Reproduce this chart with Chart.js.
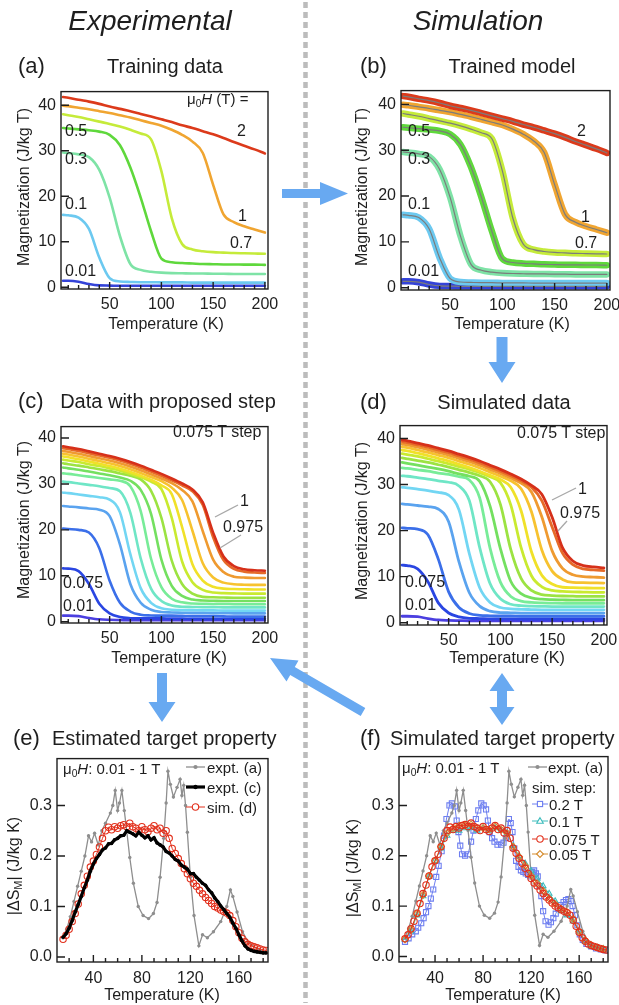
<!DOCTYPE html>
<html>
<head>
<meta charset="utf-8">
<script src="https://cdn.jsdelivr.net/npm/chart.js@4.4.1/dist/chart.umd.min.js"></script>
<style>
  body { margin: 0; width: 619px; height: 1005px; position: relative; background: #fff; overflow: hidden;
         font-family: "Liberation Sans", Arial, sans-serif; color: #1e1e1e; }
  canvas { position: absolute; }
  .t { position: absolute; white-space: nowrap; line-height: 1; }
  .c { transform: translateX(-50%); }
  .r { transform: translate(-50%, -50%) rotate(-90deg); }
  .it { font-style: italic; }
  sub { font-size: 0.68em; vertical-align: -0.28em; line-height: 0; }
  svg.overlay { position: absolute; left: 0; top: 0; pointer-events: none; }
  .s16 { font-size: 16px; }
  .s15 { font-size: 15px; }
</style>
</head>
<body>

<canvas id="ca"></canvas>
<canvas id="cb"></canvas>
<canvas id="cc"></canvas>
<canvas id="cd"></canvas>
<canvas id="ce"></canvas>
<canvas id="cf"></canvas>

<svg class="overlay" width="619" height="1005">
  <line x1="305.5" y1="2" x2="305.5" y2="1003" stroke="#bcbcbc" stroke-width="4.5" stroke-dasharray="6 4"/>
  <g fill="#68a9f1">
    <polygon points="282,189 320,189 320,182 348,193.5 320,205 320,198 282,198"/>
    <polygon points="496.5,337 507.5,337 507.5,362 515.5,362 502,383 488.5,362 496.5,362"/>
    <polygon points="157,673 167,673 167,702 175.5,702 162,722 148.5,702 157,702"/>
    <polygon points="270,658 298.5,660.6 294.8,667.1 365.3,708.1 360.7,715.9 290.2,674.9 286.5,681.4"/>
    <polygon points="502,673 514.5,691 507,691 507,707 514.5,707 502,725 489.5,707 497,707 497,691 489.5,691"/>
  </g>
  <g stroke="#a8a8a8" stroke-width="1.3">
    <line x1="238" y1="505" x2="215" y2="517"/>
    <line x1="241" y1="535" x2="220" y2="548"/>
    <line x1="576" y1="488" x2="552" y2="500"/>
    <line x1="567" y1="521" x2="558" y2="531"/>
  </g>
</svg>

<!-- column headings -->
<div class="t c it" style="left:150px;top:7px;font-size:28px">Experimental</div>
<div class="t c it" style="left:478px;top:7px;font-size:28px">Simulation</div>

<!-- panel titles -->
<div class="t" style="left:18px;top:55px;font-size:22px">(a)</div>
<div class="t c" style="left:165px;top:56px;font-size:20px">Training data</div>
<div class="t" style="left:360px;top:55px;font-size:22px">(b)</div>
<div class="t c" style="left:512px;top:56px;font-size:20px">Trained model</div>
<div class="t" style="left:18px;top:390px;font-size:22px">(c)</div>
<div class="t c" style="left:168px;top:391px;font-size:20px">Data with proposed step</div>
<div class="t" style="left:360px;top:391px;font-size:22px">(d)</div>
<div class="t c" style="left:504px;top:392px;font-size:20px">Simulated data</div>
<div class="t" style="left:13px;top:727px;font-size:22px">(e)</div>
<div class="t" style="left:52px;top:728px;font-size:20px">Estimated target property</div>
<div class="t" style="left:360px;top:727px;font-size:22px">(f)</div>
<div class="t" style="left:390px;top:728px;font-size:20px">Simulated target property</div>

<!-- axis titles -->
<div class="t c s16" style="left:166px;top:316px">Temperature (K)</div>
<div class="t c s16" style="left:512px;top:316px">Temperature (K)</div>
<div class="t c s16" style="left:169px;top:650px">Temperature (K)</div>
<div class="t c s16" style="left:507px;top:650px">Temperature (K)</div>
<div class="t c s16" style="left:162px;top:987px">Temperature (K)</div>
<div class="t c s16" style="left:503px;top:987px">Temperature (K)</div>
<div class="t r s16" style="left:24px;top:187px">Magnetization (J/kg T)</div>
<div class="t r s16" style="left:362px;top:187px">Magnetization (J/kg T)</div>
<div class="t r s16" style="left:24px;top:520px">Magnetization (J/kg T)</div>
<div class="t r s16" style="left:362px;top:521px">Magnetization (J/kg T)</div>
<div class="t r s16" style="left:14px;top:866px">|ΔS<sub>M</sub>| (J/kg K)</div>
<div class="t r s16" style="left:353px;top:868px">|ΔS<sub>M</sub>| (J/kg K)</div>

<!-- curve labels (a) -->
<div class="t s15" style="left:187px;top:91px">μ<sub>0</sub><i>H</i> (T) =</div>
<div class="t s16" style="left:237px;top:123px">2</div>
<div class="t s16" style="left:65px;top:123px">0.5</div>
<div class="t s16" style="left:65px;top:151px">0.3</div>
<div class="t s16" style="left:65px;top:196px">0.1</div>
<div class="t s16" style="left:65px;top:263px">0.01</div>
<div class="t s16" style="left:238px;top:208px">1</div>
<div class="t s16" style="left:230px;top:235px">0.7</div>
<!-- curve labels (b) -->
<div class="t s16" style="left:577px;top:123px">2</div>
<div class="t s16" style="left:408px;top:123px">0.5</div>
<div class="t s16" style="left:408px;top:151px">0.3</div>
<div class="t s16" style="left:408px;top:196px">0.1</div>
<div class="t s16" style="left:408px;top:263px">0.01</div>
<div class="t s16" style="left:581px;top:209px">1</div>
<div class="t s16" style="left:575px;top:235px">0.7</div>
<!-- curve labels (c) -->
<div class="t s16" style="left:173px;top:424px">0.075 T step</div>
<div class="t s16" style="left:240px;top:493px">1</div>
<div class="t s16" style="left:223px;top:519px">0.975</div>
<div class="t s16" style="left:63px;top:575px">0.075</div>
<div class="t s16" style="left:63px;top:598px">0.01</div>
<!-- curve labels (d) -->
<div class="t s16" style="left:517px;top:425px">0.075 T step</div>
<div class="t s16" style="left:578px;top:481px">1</div>
<div class="t s16" style="left:560px;top:505px">0.975</div>
<div class="t s16" style="left:405px;top:574px">0.075</div>
<div class="t s16" style="left:405px;top:597px">0.01</div>
<!-- (e), (f) notes -->
<div class="t s15" style="left:63px;top:761px">μ<sub>0</sub><i>H</i>: 0.01 - 1 T</div>
<div class="t s15" style="left:402px;top:760px">μ<sub>0</sub><i>H</i>: 0.01 - 1 T</div>
<div class="t s15" style="left:532px;top:780px">sim. step:</div>
<div id="legends"></div>

<script>
// ---- (a)/(b): training data, field in T ----
const trainT = [5, 10, 20, 30, 40, 50, 60, 70, 80, 90, 100, 110, 120, 130, 140, 150, 160, 170, 180, 190, 200];
const trainM001 = [1.4, 1.4, 1.2, 0.7, 0.4, 0.35, 0.3, 0.3, 0.3, 0.3, 0.3, 0.3, 0.3, 0.3, 0.3, 0.3, 0.3, 0.3, 0.3, 0.3, 0.3];
const trainM01 = [15.9, 15.8, 15.3, 12.8, 6.5, 2.0, 1.25, 1.15, 1.1, 1.1, 1.05, 1.05, 1.05, 1.0, 1.0, 1.0, 1.0, 1.0, 1.0, 1.0, 1.0];
const trainM03 = [29.6, 29.5, 29.2, 28.6, 25.8, 19.7, 11.2, 5.1, 3.8, 3.4, 3.2, 3.1, 3.05, 3.0, 3.0, 2.95, 2.95, 2.9, 2.9, 2.9, 2.9];
const trainM05 = [35.0, 34.9, 34.7, 34.5, 34.2, 33.5, 31.2, 26.3, 19.7, 12.3, 6.3, 5.5, 5.3, 5.2, 5.1, 5.05, 5.0, 5.0, 4.95, 4.95, 4.9];
const trainM07 = [38.0, 37.8, 37.4, 36.9, 36.4, 35.9, 35.3, 34.6, 33.8, 32.5, 25.5, 15.2, 9.5, 8.3, 7.9, 7.7, 7.6, 7.5, 7.45, 7.4, 7.35];
const trainM1 = [39.9, 39.8, 39.45, 39.1, 38.7, 38.3, 37.8, 37.3, 36.7, 36.1, 35.5, 34.6, 33.5, 32.0, 29.5, 22.5, 16.0, 14.3, 13.4, 12.7, 12.0];
const trainM2 = [41.8, 41.65, 41.2, 40.8, 40.3, 39.7, 39.2, 38.7, 38.1, 37.5, 36.9, 36.3, 35.6, 35.0, 34.3, 33.6, 32.8, 31.9, 31.1, 30.3, 29.4];
const trainColors = ['#3443d8', '#6cc9f0', '#7ee3a6', '#5fd83c', '#c5eb3a', '#f0a531', '#dc3a1b'];

// ---- (c): data with 0.075 T step ----
const stepT = [5, 10, 20, 30, 40, 50, 60, 70, 80, 90, 100, 110, 120, 130, 140, 150, 160, 170, 180, 190, 200];
const stepFields = [0.01, 0.075, 0.15, 0.225, 0.3, 0.375, 0.45, 0.525, 0.6, 0.675, 0.75, 0.825, 0.9, 0.975, 1];
const c001 = [1.3, 1.3, 1.2, 0.8, 0.5, 0.4, 0.35, 0.3, 0.3, 0.3, 0.3, 0.3, 0.3, 0.3, 0.3, 0.3, 0.3, 0.3, 0.3, 0.3, 0.3];
const c0075 = [11.6, 11.55, 11.0, 8.2, 3.9, 1.8, 1.0, 0.75, 0.7, 0.7, 0.7, 0.65, 0.65, 0.6, 0.6, 0.6, 0.6, 0.6, 0.6, 0.6, 0.6];
const c015 = [20.3, 20.2, 20.0, 19.4, 16.0, 8.9, 4.1, 2.2, 1.5, 1.35, 1.3, 1.3, 1.25, 1.2, 1.2, 1.2, 1.15, 1.1, 1.1, 1.1, 1.1];
const c0225 = [25.2, 25.1, 24.9, 24.65, 24.4, 23.0, 16.8, 8.2, 4.1, 2.6, 2.1, 2.0, 1.95, 1.9, 1.9, 1.85, 1.85, 1.8, 1.8, 1.8, 1.8];
const c03 = [28.1, 28.0, 27.7, 27.4, 27.1, 26.6, 23.8, 14.7, 7.3, 4.1, 2.9, 2.6, 2.5, 2.5, 2.45, 2.45, 2.4, 2.4, 2.4, 2.4, 2.4];
const c0375 = [30.5, 30.4, 30.1, 29.8, 29.5, 29.1, 28.4, 23.7, 13.8, 7.2, 4.5, 3.5, 3.25, 3.2, 3.15, 3.15, 3.1, 3.1, 3.1, 3.1, 3.1];
const c045 = [32.3, 32.2, 31.9, 31.6, 31.3, 31.0, 30.7, 29.5, 24.1, 13.7, 7.5, 5.0, 4.2, 3.95, 3.9, 3.85, 3.85, 3.8, 3.8, 3.8, 3.8];
const c0525 = [33.6, 33.4, 33.1, 32.7, 32.3, 31.9, 31.4, 30.7, 28.7, 23.5, 13.5, 7.8, 5.6, 4.8, 4.6, 4.55, 4.5, 4.5, 4.5, 4.5, 4.5];
const c06 = [34.5, 34.3, 34.0, 33.6, 33.2, 32.8, 32.3, 31.8, 31.0, 28.5, 22.6, 13.3, 8.2, 6.1, 5.4, 5.3, 5.25, 5.2, 5.2, 5.2, 5.2];
const c0675 = [35.3, 35.1, 34.8, 34.3, 33.9, 33.4, 32.9, 32.2, 31.5, 30.5, 28.9, 22.6, 13.1, 8.6, 6.9, 6.35, 6.2, 6.15, 6.1, 6.1, 6.1];
const c075 = [36.0, 35.8, 35.4, 34.9, 34.4, 33.9, 33.3, 32.6, 31.8, 30.9, 29.7, 27.8, 20.6, 12.5, 8.95, 7.6, 7.2, 7.1, 7.05, 7.0, 7.0];
const c0825 = [36.6, 36.4, 36.0, 35.5, 35.0, 34.5, 33.9, 33.2, 32.4, 31.5, 30.6, 29.2, 26.5, 19.8, 12.7, 9.6, 8.5, 8.15, 8.05, 8.0, 8.0];
const c09 = [37.2, 37.0, 36.6, 36.1, 35.6, 35.1, 34.5, 33.8, 33.0, 32.1, 31.2, 30.2, 28.7, 26.2, 19.7, 13.5, 10.8, 9.8, 9.6, 9.5, 9.5];
const c0975 = [37.8, 37.6, 37.2, 36.7, 36.2, 35.7, 35.1, 34.4, 33.6, 32.7, 31.8, 30.8, 29.7, 28.4, 25.4, 18.4, 13.4, 11.5, 10.9, 10.7, 10.6];
const c1 = [38.2, 38.0, 37.6, 37.1, 36.6, 36.1, 35.5, 34.8, 34.0, 33.1, 32.2, 31.2, 30.1, 28.8, 26.0, 19.4, 14.2, 12.1, 11.4, 11.2, 11.1];

// ---- (d): simulated data, same fields ----
const d001 = [1.4, 1.4, 1.3, 0.9, 0.6, 0.5, 0.45, 0.4, 0.4, 0.4, 0.4, 0.4, 0.4, 0.4, 0.4, 0.4, 0.4, 0.4, 0.4, 0.4, 0.4];
const d0075 = [12.5, 12.4, 11.7, 8.9, 4.3, 2.1, 1.25, 0.95, 0.9, 0.85, 0.85, 0.85, 0.8, 0.8, 0.8, 0.8, 0.8, 0.8, 0.8, 0.8, 0.8];
const d015 = [20.6, 20.5, 20.3, 19.1, 13.8, 6.7, 3.3, 2.0, 1.6, 1.5, 1.45, 1.45, 1.4, 1.4, 1.4, 1.4, 1.4, 1.4, 1.4, 1.4, 1.4];
const d0225 = [25.8, 25.7, 25.45, 25.2, 24.7, 21.9, 13.2, 6.5, 3.6, 2.5, 2.2, 2.15, 2.1, 2.1, 2.1, 2.1, 2.1, 2.1, 2.1, 2.1, 2.1];
const d03 = [29.4, 29.3, 29.0, 28.7, 28.3, 27.7, 24.5, 15.0, 7.6, 4.4, 3.3, 3.0, 2.9, 2.85, 2.8, 2.8, 2.8, 2.8, 2.8, 2.8, 2.8];
const d0375 = [31.9, 31.8, 31.5, 31.2, 30.8, 30.5, 29.7, 26.5, 16.3, 8.5, 5.2, 4.0, 3.7, 3.6, 3.55, 3.5, 3.5, 3.5, 3.5, 3.5, 3.5];
const d045 = [33.6, 33.5, 33.2, 32.9, 32.5, 32.2, 31.7, 31.0, 27.1, 16.2, 8.8, 5.7, 4.7, 4.4, 4.3, 4.25, 4.2, 4.2, 4.2, 4.2, 4.2];
const d0525 = [34.8, 34.6, 34.2, 33.8, 33.4, 32.9, 32.3, 31.8, 30.7, 25.3, 16.1, 9.0, 6.3, 5.4, 5.1, 5.0, 4.95, 4.9, 4.9, 4.9, 4.9];
const d06 = [35.8, 35.6, 35.2, 34.8, 34.3, 33.8, 33.2, 32.6, 31.9, 30.6, 25.7, 15.9, 9.6, 7.0, 6.1, 5.9, 5.8, 5.75, 5.7, 5.7, 5.7];
const d0675 = [36.7, 36.5, 36.1, 35.6, 35.1, 34.5, 33.9, 33.3, 32.6, 31.7, 30.4, 25.6, 16.3, 10.2, 7.8, 7.0, 6.8, 6.7, 6.65, 6.6, 6.6];
const d075 = [37.5, 37.3, 36.8, 36.3, 35.7, 35.1, 34.4, 33.7, 32.9, 32.0, 31.1, 29.4, 24.3, 15.4, 10.3, 8.4, 7.7, 7.6, 7.55, 7.5, 7.5];
const d0825 = [38.2, 38.0, 37.5, 37.0, 36.4, 35.8, 35.1, 34.4, 33.6, 32.7, 31.8, 30.8, 29.1, 24.1, 15.8, 11.2, 9.4, 8.75, 8.7, 8.65, 8.6];
const d09 = [38.8, 38.6, 38.1, 37.6, 37.0, 36.4, 35.7, 35.0, 34.2, 33.3, 32.4, 31.4, 30.3, 28.4, 23.0, 15.6, 11.8, 10.4, 10.0, 9.9, 9.8];
const d0975 = [39.3, 39.1, 38.6, 38.1, 37.5, 36.9, 36.2, 35.5, 34.7, 33.8, 32.9, 31.9, 30.8, 29.4, 26.5, 20.8, 15.1, 12.6, 11.7, 11.45, 11.3];
const d1 = [39.7, 39.5, 39.0, 38.5, 37.9, 37.3, 36.6, 35.9, 35.1, 34.2, 33.3, 32.3, 31.2, 29.8, 27.9, 22.9, 16.3, 13.4, 12.4, 12.1, 11.9];
const stepColors = ['#4b3fe0', '#2a46e2', '#3b6fe9', '#5aa3ef', '#72d6f3', '#6fe6c6', '#78ec98', '#74e060',
                    '#9ce342', '#c9ea30', '#f0e129', '#f7c22f', '#ef9a30', '#e66a28', '#d6301a'];

// ---- (e)/(f): entropy change |dS_M| (J/kg K) ----
const exptA = [[15, 0.038], [18, 0.055], [21, 0.08], [24, 0.11], [27, 0.14], [30, 0.17], [33, 0.2], [36, 0.24],
  [38.5, 0.228], [41, 0.245], [44, 0.222], [47, 0.25], [50, 0.265], [54, 0.285], [56, 0.3], [58, 0.33],
  [60, 0.29], [61.5, 0.305], [63.5, 0.33], [65.5, 0.29], [67.5, 0.25], [70, 0.197], [73, 0.146], [77, 0.1],
  [81, 0.082], [85.5, 0.076], [89.5, 0.086], [92.5, 0.108], [95, 0.158], [98, 0.235], [100, 0.305],
  [101.5, 0.368], [103.5, 0.342], [106, 0.317], [109, 0.336], [111.5, 0.352], [113, 0.32], [114.5, 0.34],
  [116, 0.3], [117.5, 0.247], [120, 0.158], [123, 0.082], [127, 0.022], [130, 0.044], [134, 0.038],
  [139, 0.05], [145, 0.07], [150, 0.1], [153, 0.133], [155, 0.12], [158.5, 0.089], [163, 0.05],
  [168, 0.028], [175, 0.016], [182, 0.01]];
const fineT = [15, 17.5, 20, 22.5, 25, 27.5, 30, 32.5, 35, 37.5, 40, 42.5, 45, 47.5, 50, 52.5, 55, 57.5, 60, 62.5,
  65, 67.5, 70, 72.5, 75, 77.5, 80, 82.5, 85, 87.5, 90, 92.5, 95, 97.5, 100, 102.5, 105, 107.5, 110, 112.5,
  115, 117.5, 120, 122.5, 125, 127.5, 130, 132.5, 135, 137.5, 140, 142.5, 145, 147.5, 150, 152.5, 155, 157.5,
  160, 162.5, 165, 167.5, 170, 172.5, 175, 177.5, 180, 182.5];
const exptC = [0.039, 0.046, 0.057, 0.072, 0.089, 0.104, 0.12, 0.137, 0.152, 0.17,
  0.184, 0.195, 0.203, 0.212, 0.216, 0.224, 0.225, 0.232, 0.235, 0.24,
  0.241, 0.25, 0.247, 0.244, 0.24, 0.247, 0.241, 0.236, 0.24, 0.232,
  0.236, 0.226, 0.222, 0.218, 0.209, 0.206, 0.2, 0.193, 0.19, 0.182,
  0.178, 0.174, 0.165, 0.165, 0.158, 0.152, 0.146, 0.142, 0.133, 0.127,
  0.117, 0.11, 0.101, 0.094, 0.086, 0.079, 0.067, 0.057, 0.044, 0.032,
  0.022, 0.016, 0.013, 0.011, 0.01, 0.009, 0.008, 0.008];
const sim075 = [0.035, 0.043, 0.055, 0.07, 0.086, 0.105, 0.125, 0.142, 0.16, 0.178,
  0.19, 0.203, 0.218, 0.235, 0.25, 0.257, 0.252, 0.258, 0.255, 0.26,
  0.262, 0.258, 0.265, 0.258, 0.255, 0.25, 0.258, 0.252, 0.248, 0.255,
  0.26, 0.252, 0.255, 0.245, 0.25, 0.235, 0.215, 0.205, 0.195, 0.185,
  0.175, 0.165, 0.155, 0.146, 0.14, 0.132, 0.125, 0.118, 0.112, 0.106,
  0.1, 0.097, 0.093, 0.09, 0.087, 0.082, 0.072, 0.06, 0.048, 0.037,
  0.03, 0.025, 0.022, 0.02, 0.018, 0.016, 0.014, 0.013];
const coarseT = [15, 20, 25, 30, 35, 40, 45, 50, 55, 60, 65, 70, 75, 80, 85, 90, 95, 100, 105, 110,
  115, 120, 125, 130, 135, 140, 145, 150, 155, 160, 165, 170, 175, 180];
const sim01 = [0.033, 0.05, 0.082, 0.12, 0.158, 0.19, 0.215, 0.24, 0.25, 0.25,
  0.255, 0.255, 0.25, 0.255, 0.25, 0.255, 0.25, 0.245, 0.22, 0.2,
  0.185, 0.17, 0.155, 0.14, 0.125, 0.11, 0.09, 0.082, 0.07, 0.05,
  0.03, 0.02, 0.017, 0.015];
const sim005 = [0.034, 0.053, 0.085, 0.122, 0.16, 0.19, 0.218, 0.245, 0.255, 0.26,
  0.26, 0.262, 0.255, 0.255, 0.252, 0.258, 0.252, 0.245, 0.218, 0.198,
  0.18, 0.16, 0.145, 0.13, 0.115, 0.104, 0.095, 0.088, 0.075, 0.05,
  0.032, 0.023, 0.018, 0.015];
const sim02 = [[15, 0.029], [18, 0.036], [21, 0.044], [24, 0.05], [26, 0.057], [28.5, 0.066], [30.5, 0.076],
  [32.5, 0.088], [34.5, 0.1], [36.5, 0.115], [38.5, 0.133], [41, 0.158], [43, 0.18], [45.5, 0.209],
  [47.5, 0.24], [49.5, 0.273], [52, 0.3], [54, 0.304], [56.5, 0.298], [58, 0.27], [59.5, 0.247],
  [61, 0.22], [62.5, 0.203], [65, 0.2], [67.5, 0.203], [70, 0.228], [72, 0.25], [74, 0.273], [76, 0.29],
  [78.5, 0.304], [80.5, 0.3], [82.5, 0.292], [84, 0.27], [85.5, 0.247], [87.5, 0.235], [89.5, 0.228],
  [92, 0.222], [95, 0.222], [97, 0.226], [99, 0.235], [101.5, 0.273], [103, 0.265], [104.5, 0.247],
  [106, 0.215], [107.5, 0.19], [109.5, 0.178], [111.5, 0.171], [113.5, 0.168], [115.5, 0.165],
  [117.5, 0.162], [119.5, 0.159], [121, 0.168], [122.5, 0.171], [124, 0.165], [125.5, 0.159],
  [127, 0.14], [128.5, 0.12], [130, 0.09], [132, 0.07], [134.5, 0.063], [136.5, 0.068], [138.5, 0.076],
  [140.5, 0.085], [142.5, 0.095], [145, 0.102], [147, 0.108], [149, 0.112], [151, 0.114], [153, 0.11],
  [154.5, 0.1], [156.5, 0.082], [158.5, 0.062], [160.5, 0.044], [163, 0.033], [166, 0.025], [170, 0.02],
  [174, 0.016], [178, 0.014], [182, 0.012]];

// tick values
const magXTicks = [50, 100, 150, 200];
const magYTicks = [0, 10, 20, 30, 40];
const dsXTicks = [40, 80, 120, 160];
const dsYTicks = [0, 0.1, 0.2, 0.3];

// marker styles for (e)/(f)
const styles = {
  exptA: { color: '#8e8e8e', lw: 1.3, marker: 'dot', r: 1.7 },
  exptC: { color: '#000000', lw: 3.2, marker: 'dot', r: 1.8 },
  s075: { color: '#e2301c', lw: 1, marker: 'circle', r: 3.2 },
  s02: { color: '#6d7ef0', lw: 1, marker: 'rect', r: 3.6 },
  s01: { color: '#3cbcbc', lw: 1, marker: 'triangle', r: 3.3 },
  s005: { color: '#d48a2c', lw: 1, marker: 'diamond', r: 3.4 },
};

Chart.defaults.font.family = "'Liberation Sans', Arial, sans-serif";
Chart.defaults.font.size = 16;
Chart.defaults.color = '#1e1e1e';

// frame box and inward ticks
const frameTicks = {
  id: 'frameTicks',
  afterDraw(chart, args, o) {
    const { ctx, chartArea: a } = chart;
    const x = chart.scales.x, y = chart.scales.y;
    ctx.save();
    ctx.strokeStyle = '#1e1e1e';
    ctx.lineWidth = 1.4;
    ctx.beginPath();
    x.ticks.forEach(t => {
      const p = x.getPixelForValue(t.value);
      ctx.moveTo(p, a.bottom); ctx.lineTo(p, a.bottom - 7);
    });
    for (let v = o.xMinorFrom; v < x.max; v += 10) {
      const p = x.getPixelForValue(v);
      if (p <= a.left + 1) continue;
      ctx.moveTo(p, a.bottom); ctx.lineTo(p, a.bottom - 4);
    }
    y.ticks.forEach(t => {
      const p = y.getPixelForValue(t.value);
      ctx.moveTo(a.left, p); ctx.lineTo(a.left + 8, p);
    });
    ctx.stroke();
    ctx.strokeRect(a.left, a.top, a.right - a.left, a.bottom - a.top);
    ctx.restore();
  }
};

function makeChart(id, box, datasets, xr, yr) {
  const cv = document.getElementById(id);
  cv.width = box.r - box.l + 60 + 24;
  cv.height = box.b - box.t + 6 + 30;
  cv.style.left = (box.l - 60) + 'px';
  cv.style.top = (box.t - 6) + 'px';
  return new Chart(cv, {
    type: 'line',
    data: { datasets },
    options: {
      responsive: false, animation: false, devicePixelRatio: 1,
      layout: { padding: { top: 6, right: 24, left: 0, bottom: 0 } },
      plugins: { legend: { display: false }, tooltip: { enabled: false }, frameTicks: { xMinorFrom: xr.minorFrom } },
      scales: {
        x: {
          type: 'linear', min: xr.min, max: xr.max,
          grid: { display: false, drawTicks: false }, border: { display: false },
          afterFit: s => { s.height = 30; },
          afterBuildTicks: s => { s.ticks = xr.ticks.map(v => ({ value: v })); },
          ticks: { padding: xr.pad, maxRotation: 0, autoSkip: false, color: '#1e1e1e' }
        },
        y: {
          type: 'linear', min: yr.min, max: yr.max,
          grid: { display: false, drawTicks: false }, border: { display: false },
          afterFit: s => { s.width = 60; },
          afterBuildTicks: s => { s.ticks = yr.ticks.map(v => ({ value: v })); },
          ticks: { padding: 5, autoSkip: false, color: '#1e1e1e', callback: yr.fmt }
        }
      }
    },
    plugins: [frameTicks]
  });
}

function curve(ts, vs, color, width, extra) {
  return Object.assign({
    data: ts.map((t, i) => ({ x: t, y: vs[i] })),
    borderColor: color, borderWidth: width, pointRadius: 0,
    cubicInterpolationMode: 'monotone', fill: false,
    borderCapStyle: 'round', borderJoinStyle: 'round'
  }, extra || {});
}

function marked(points, st, order) {
  const ps = { dot: 'circle', circle: 'circle', rect: 'rect', triangle: 'triangle', diamond: 'rectRot' }[st.marker];
  const filled = st.marker === 'dot';
  return {
    data: points.map(p => ({ x: p[0], y: p[1] })),
    borderColor: st.color, borderWidth: st.lw, tension: 0, order,
    pointStyle: ps, pointRadius: st.r,
    pointBackgroundColor: filled ? st.color : 'rgba(255,255,255,0)',
    pointBorderColor: st.color, pointBorderWidth: filled ? 0 : 1.1
  };
}
const zip = (ts, vs) => ts.map((t, i) => [t, vs[i]]);

const trainSeries = [trainM001, trainM01, trainM03, trainM05, trainM07, trainM1, trainM2];
const cSeries = [c001, c0075, c015, c0225, c03, c0375, c045, c0525, c06, c0675, c075, c0825, c09, c0975, c1];
const dSeries = [d001, d0075, d015, d0225, d03, d0375, d045, d0525, d06, d0675, d075, d0825, d09, d0975, d1];

const magX = { min: 3, max: 203, ticks: magXTicks, pad: 6, minorFrom: 10 };
const magY = { min: -0.4, max: 43, ticks: magYTicks, fmt: v => String(v) };

// (a)
makeChart('ca', { l: 61, t: 83, r: 268, b: 289 },
  trainSeries.map((vs, i) => curve(trainT, vs, trainColors[i], 2.6, { order: trainSeries.length - i })),
  magX, magY);

// (b): thick coloured data with the thin grey model on top
const bSets = [];
trainSeries.forEach((vs, i) => {
  bSets.push(curve(trainT, vs, trainColors[i], 6.5, { order: 20 - i }));
  bSets.push(curve(trainT, vs, '#7c7c7c', 1.2, { order: 0 }));
});
makeChart('cb', { l: 401, t: 82, r: 610, b: 290 }, bSets, magX, { min: -0.5, max: 43, ticks: magYTicks, fmt: v => String(v) });

// (c)
makeChart('cc', { l: 61, t: 418, r: 268, b: 623 },
  cSeries.map((vs, i) => curve(stepT, vs, stepColors[i], 2.6, { order: cSeries.length - i })),
  magX, { min: -0.3, max: 42.5, ticks: magYTicks, fmt: v => String(v) });

// (d)
makeChart('cd', { l: 400, t: 417, r: 607, b: 625 },
  dSeries.map((vs, i) => curve(stepT, vs, stepColors[i], 2.8, { order: dSeries.length - i })),
  magX, { min: -0.5, max: 42.8, ticks: magYTicks, fmt: v => String(v) });

const dsX = { min: 10, max: 184, ticks: dsXTicks, pad: 7, minorFrom: 20 };
const dsFmt = v => v.toFixed(1);

// (e)
makeChart('ce', { l: 57, t: 750, r: 268, b: 962 }, [
  marked(zip(fineT, exptC), styles.exptC, 0),
  marked(zip(fineT, sim075), styles.s075, 1),
  marked(exptA, styles.exptA, 2)
], dsX, { min: -0.01, max: 0.393, ticks: dsYTicks, fmt: dsFmt });

// (f)
makeChart('cf', { l: 399, t: 748, r: 608, b: 962 }, [
  marked(zip(fineT, sim075), styles.s075, 0),
  marked(zip(coarseT, sim005), styles.s005, 1),
  marked(zip(coarseT, sim01), styles.s01, 2),
  marked(exptA, styles.exptA, 3),
  marked(sim02, styles.s02, 4)
], dsX, { min: -0.011, max: 0.397, ticks: dsYTicks, fmt: dsFmt });

// legends for (e) and (f)
function sample(st, w) {
  const cy = 6, cx = w / 2, c = st.color, r = st.r;
  let m = '';
  if (st.marker === 'dot') m = `<circle cx="${cx}" cy="${cy}" r="${r + 0.4}" fill="${c}"/>`;
  if (st.marker === 'circle') m = `<circle cx="${cx}" cy="${cy}" r="${r}" fill="#fff" stroke="${c}" stroke-width="1.1"/>`;
  if (st.marker === 'rect') { const h = r * 0.72; m = `<rect x="${cx - h}" y="${cy - h}" width="${2 * h}" height="${2 * h}" fill="#fff" stroke="${c}" stroke-width="1.1"/>`; }
  if (st.marker === 'triangle') m = `<polygon points="${cx},${cy - r} ${cx + r},${cy + r * 0.7} ${cx - r},${cy + r * 0.7}" fill="#fff" stroke="${c}" stroke-width="1.1"/>`;
  if (st.marker === 'diamond') m = `<polygon points="${cx},${cy - r} ${cx + r},${cy} ${cx},${cy + r} ${cx - r},${cy}" fill="#fff" stroke="${c}" stroke-width="1.1"/>`;
  return `<svg width="${w}" height="12"><line x1="0" y1="${cy}" x2="${w}" y2="${cy}" stroke="${c}" stroke-width="${st.lw}"/>${m}</svg>`;
}
const legendItems = [
  { st: styles.exptA, text: 'expt. (a)', sx: 186, tx: 207, cy: 767, w: 19 },
  { st: styles.exptC, text: 'expt. (c)', sx: 186, tx: 207, cy: 787, w: 19 },
  { st: styles.s075, text: 'sim. (d)', sx: 186, tx: 207, cy: 807, w: 19 },
  { st: styles.exptA, text: 'expt. (a)', sx: 528, tx: 548, cy: 767, w: 19 },
  { st: styles.s02, text: '0.2 T', sx: 532, tx: 549, cy: 804, w: 16 },
  { st: styles.s01, text: '0.1 T', sx: 532, tx: 549, cy: 821, w: 16 },
  { st: styles.s075, text: '0.075 T', sx: 532, tx: 549, cy: 839, w: 16 },
  { st: styles.s005, text: '0.05 T', sx: 532, tx: 549, cy: 854, w: 16 },
];
document.getElementById('legends').innerHTML = legendItems.map(it =>
  `<div class="t" style="left:${it.sx}px;top:${it.cy - 6}px;line-height:0">${sample(it.st, it.w)}</div>` +
  `<div class="t s15" style="left:${it.tx}px;top:${it.cy - 7.4}px">${it.text}</div>`).join('');
</script>
</body>
</html>
